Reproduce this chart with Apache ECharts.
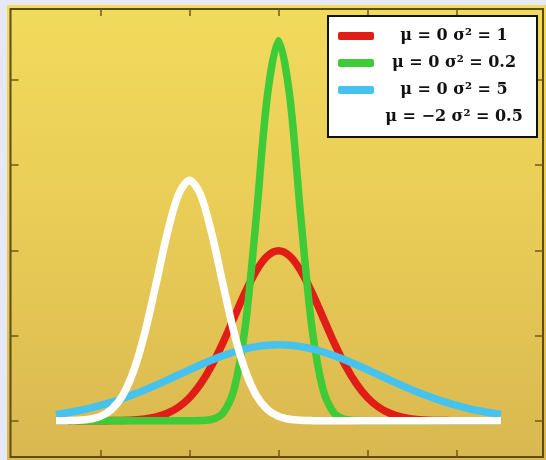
<!DOCTYPE html>
<html>
<head>
<meta charset="utf-8">
<script src="https://cdn.jsdelivr.net/npm/echarts@6/dist/echarts.min.js"></script>
<style>
html,body{margin:0;padding:0;background:#e6e9f5;width:546px;height:460px;overflow:hidden;}
#chart{position:absolute;left:7px;top:5px;width:539px;height:455px;}
</style>
</head>
<body>
<div id="chart"></div>
<script>
// x sample positions
const xs = [-5,-4.75,-4.5,-4.25,-4,-3.75,-3.5,-3.25,-3,-2.75,-2.5,-2.25,-2,-1.75,-1.5,-1.25,-1,-0.75,-0.5,-0.25,0,
  0.25,0.5,0.75,1,1.25,1.5,1.75,2,2.25,2.5,2.75,3,3.25,3.5,3.75,4,4.25,4.5,4.75,5];
const seriesNames = ['μ = 0 σ² = 1', 'μ = 0 σ² = 0.2', 'μ = 0 σ² = 5', 'μ = −2 σ² = 0.5'];
const redY = [0,0,0,0,0.0001,0.0004,0.0009,0.0020,0.0044,0.0091,0.0175,0.0317,0.0540,0.0863,0.1295,0.1826,0.2420,0.3011,0.3521,0.3867,0.3989,
  0.3867,0.3521,0.3011,0.2420,0.1826,0.1295,0.0863,0.0540,0.0317,0.0175,0.0091,0.0044,0.0020,0.0009,0.0004,0.0001,0,0,0,0];
const greenY = [0,0,0,0,0,0,0,0,0,0,0,0,0,0.0004,0.0032,0.0179,0.0732,0.2187,0.4775,0.7630,0.8921,
  0.7630,0.4775,0.2187,0.0732,0.0179,0.0032,0.0004,0,0,0,0,0,0,0,0,0,0,0,0,0];
const blueY = [0.0146,0.0187,0.0236,0.0293,0.0360,0.0437,0.0524,0.0620,0.0725,0.0837,0.0955,0.1075,0.1196,0.1313,0.1425,0.1526,0.1614,0.1686,0.1740,0.1773,0.1784,
  0.1773,0.1740,0.1686,0.1614,0.1526,0.1425,0.1313,0.1196,0.1075,0.0955,0.0837,0.0725,0.0620,0.0524,0.0437,0.0360,0.0293,0.0236,0.0187,0.0146];
const whiteY = [0.0001,0.0003,0.0011,0.0036,0.0103,0.0264,0.0595,0.1183,0.2076,0.3215,0.4394,0.5300,0.5642,0.5300,0.4394,0.3215,0.2076,0.1183,0.0595,0.0264,0.0103,
  0.0036,0.0011,0.0003,0.0001,0,0,0,0,0,0,0,0,0,0,0,0,0,0,0,0];
const xTickValues = [-4,-2,0,2,4];
const yTickValues = [0,0.2,0.4,0.6,0.8];

const colors = ['#e01d17','#3fcb37','#45c3ee','#ffffff'];
const allY = [redY, greenY, blueY, whiteY];
const pair = ys => xs.map((x,i)=>[x, ys[i]]);

const tickColor = '#6e5a1c';
const xRange = {min:-6.02, max:5.94};
const yRange = {min:-0.085, max:0.966};
function mkAxis(type, position, range, ticks, len){
  return {
    type:'value', position, min:range.min, max:range.max,
    axisLine:{show:false, onZero:false},
    axisTick:{show:true, inside:true, length:len, customValues:ticks, lineStyle:{color:tickColor, width:1.5}},
    axisLabel:{show:false},
    splitLine:{show:false}
  };
}

const chart = echarts.init(document.getElementById('chart'), null, {renderer:'canvas'});
chart.setOption({
  animation:false,
  backgroundColor:{type:'linear', x:0, y:0, x2:0, y2:1, colorStops:[
    {offset:0, color:'#f1db5c'},{offset:0.5, color:'#e8cb56'},{offset:1, color:'#d9b850'}]},
  grid:{left:3.5, right:3, top:4, bottom:3, show:true, borderColor:'#5e4c16', borderWidth:2, backgroundColor:'transparent'},
  xAxis:[
    mkAxis('x','bottom',xRange,xTickValues,7),
    mkAxis('x','top',xRange,xTickValues,7)
  ],
  yAxis:[
    mkAxis('y','left',yRange,yTickValues,8),
    mkAxis('y','right',yRange,yTickValues,8)
  ],
  legend:{
    orient:'vertical', left:321, top:11,
    padding:[10,8,10,10],
    backgroundColor:'#ffffff', borderColor:'#111111', borderWidth:2,
    itemWidth:36, itemHeight:8, itemGap:7, icon:'roundRect',
    data:seriesNames,
    formatter: n => '{t|' + n + '}',
    textStyle:{
      color:'#111', fontFamily:'DejaVu Serif', fontWeight:'bold', fontSize:16, lineHeight:20,
      rich:{t:{width:150, align:'center', fontFamily:'DejaVu Serif', fontWeight:'bold', fontSize:16, color:'#111'}}
    }
  },
  series: seriesNames.map((name,i)=>({
    name, type:'line', data:pair(allY[i]), smooth:0.3,
    showSymbol:false, symbol:'none', color:colors[i],
    lineStyle:{width:7.5, color:colors[i], cap:'butt', join:'round'},
    z:2+i
  }))
});
</script>
</body>
</html>
